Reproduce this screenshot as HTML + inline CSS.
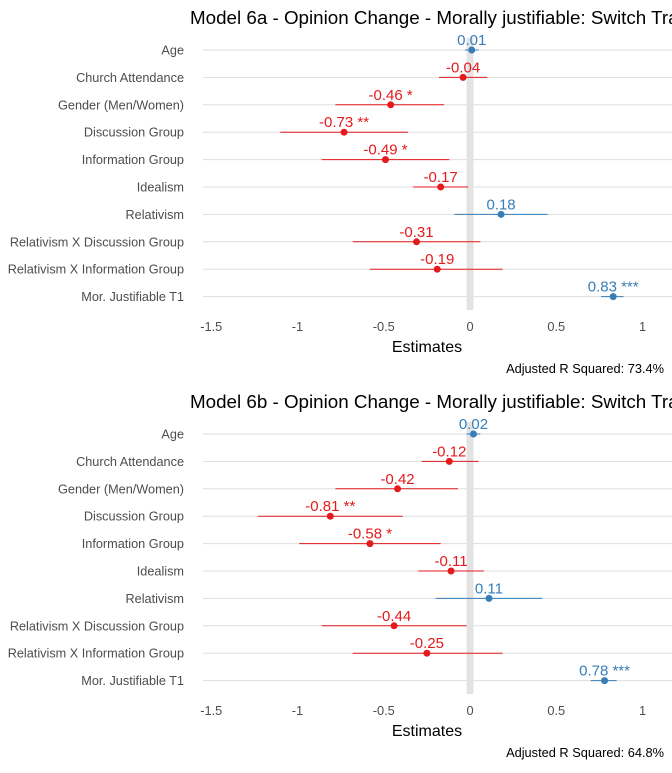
<!DOCTYPE html>
<html><head><meta charset="utf-8">
<style>
body{margin:0;background:#fff;width:672px;height:768px;overflow:hidden;font-family:"Liberation Sans",sans-serif;}
</style></head>
<body>
<svg id="chart" width="672" height="768" xmlns="http://www.w3.org/2000/svg" font-family="Liberation Sans, sans-serif"></svg>
<script>
const terms = ["Age","Church Attendance","Gender (Men/Women)","Discussion Group","Information Group","Idealism","Relativism","Relativism X Discussion Group","Relativism X Information Group","Mor. Justifiable T1"];
const estA = [0.01,-0.04,-0.46,-0.73,-0.49,-0.17,0.18,-0.31,-0.19,0.83];
const loA  = [-0.03,-0.18,-0.78,-1.10,-0.86,-0.33,-0.09,-0.68,-0.58,0.76];
const hiA  = [0.05,0.10,-0.15,-0.36,-0.12,-0.01,0.45,0.06,0.19,0.89];
const starsA = ["","","*","**","*","","","","","***"];
const estB = [0.02,-0.12,-0.42,-0.81,-0.58,-0.11,0.11,-0.44,-0.25,0.78];
const loB  = [-0.02,-0.28,-0.78,-1.23,-0.99,-0.30,-0.20,-0.86,-0.68,0.70];
const hiB  = [0.06,0.05,-0.07,-0.39,-0.17,0.08,0.42,-0.02,0.19,0.85];
const starsB = ["","","","**","*","","","","","***"];
const xTicks = [-1.5,-1,-0.5,0,0.5,1];
const xTickLabels = ["-1.5","-1","-0.5","0","0.5","1"];
const panels = [
 {title:"Model 6a - Opinion Change - Morally justifiable: Switch Trap", est:estA, lo:loA, hi:hiA, stars:starsA, r2:"Adjusted R Squared: 73.4%", top:0},
 {title:"Model 6b - Opinion Change - Morally justifiable: Switch Trap", est:estB, lo:loB, hi:hiB, stars:starsB, r2:"Adjusted R Squared: 64.8%", top:384}
];
const svg = document.getElementById('chart');
const NS = "http://www.w3.org/2000/svg";
function x(v){return 470 + v*172.5;}
function mk(tag, attrs, txt){const e=document.createElementNS(NS,tag);for(const k in attrs)e.setAttribute(k,attrs[k]);if(txt!==undefined)e.textContent=txt;svg.appendChild(e);return e;}
panels.forEach((p,pi)=>{
  const y = i => p.top + 50 + i*27.4;
  let t=mk('text',{x:190,y:p.top+24,'font-size':18.8,fill:'#000'},p.title);
  
  
  terms.forEach((term,i)=>{
    let g=mk('line',{x1:203,x2:672,y1:y(i),y2:y(i),stroke:'#dedede','stroke-width':1});
    
    
    let l=mk('text',{x:184,y:y(i)+4.5,'font-size':12.7,fill:'#4d4d4d','text-anchor':'end'},term);
    
    
  });
  let z=mk('line',{x1:x(0),x2:x(0),y1:p.top+38,y2:p.top+310,stroke:'#e3e3e3','stroke-width':7});
  
  
  terms.forEach((term,i)=>{
    const c = p.est[i]>=0 ? '#377eb8' : '#e41a1c';
    let ci=mk('line',{x1:x(p.lo[i]),x2:x(p.hi[i]),y1:y(i),y2:y(i),stroke:c,'stroke-width':1});
    
    
    let pt=mk('circle',{cx:x(p.est[i]),cy:y(i),r:3.5,fill:c});
    
    
    let lab=p.est[i].toFixed(2)+(p.stars[i]?' '+p.stars[i]:'');
    let vl=mk('text',{x:x(p.est[i]),y:y(i)-5,'font-size':15,fill:c,'text-anchor':'middle'},lab);
    
    
  });
  xTicks.forEach((v,i)=>{
    let tl=mk('text',{x:x(v),y:p.top+331,'font-size':12.8,fill:'#4d4d4d','text-anchor':'middle'},xTickLabels[i]);
    
    
  });
  let xt=mk('text',{x:427,y:p.top+352,'font-size':16,fill:'#000','text-anchor':'middle'},'Estimates');
  
  
  let r=mk('text',{x:664,y:p.top+373,'font-size':12.8,fill:'#000','text-anchor':'end'},p.r2);
  
  
});
</script>
</body></html>
